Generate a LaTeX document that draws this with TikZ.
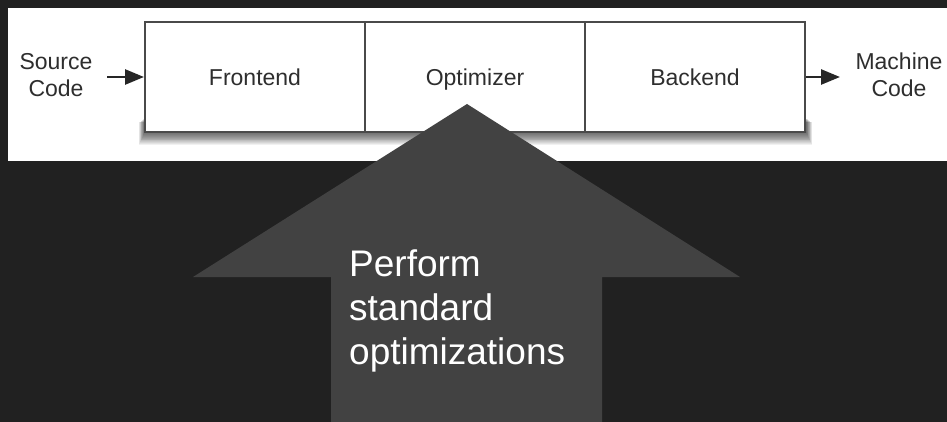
\documentclass[tikz,border=0pt]{standalone}
\usepackage{fontspec}
\setmainfont{Liberation Sans}
\usetikzlibrary{arrows.meta}
\definecolor{bgdark}{HTML}{212121}
\definecolor{arrowgray}{HTML}{424242}
\definecolor{framegray}{HTML}{4A4A4A}
\definecolor{labelgray}{HTML}{2E2E2E}
\tikzset{
  stage/.style={draw=framegray, line width=2pt, fill=white, minimum width=220pt,
    minimum height=110pt, inner sep=0pt, anchor=north west, text height=20pt, text depth=2pt,
    font=\fontsize{23}{27}\selectfont, text=labelgray},
  io/.style={align=center, inner sep=0pt, font=\fontsize{23}{27}\selectfont, text=labelgray},
  flow/.style={-{Triangle[length=19pt,width=15pt]}, line width=2.6pt, draw=black!85},
  bigtext/.style={align=left, inner sep=0pt, text=white, font=\fontsize{37}{44}\selectfont},
  shadowlayer/.style={fill=black, opacity=0.055}
}
\begin{document}
\begin{tikzpicture}[x=1pt,y=-1pt]
  \fill[bgdark] (0,0) rectangle (947,422);
  \useasboundingbox (0,0) rectangle (947,422);
  % white panel
  \fill[white] (8,8) rectangle (947,161);
  % soft shadow under the box
  \foreach \i in {1,...,15}{
    \fill[shadowlayer] (145-\i*0.4,118+\i*0.3) rectangle (806+\i*0.4,131+\i*0.95);
  }
  % stages
  \node[stage] (front) at (144,21) {Frontend};
  \node[stage] (opt) at (364,21) {Optimizer};
  \node[stage] (back) at (584,21) {Backend};
  % inputs / outputs
  \node[io, anchor=base] (src) at (56,97) {Source\\Code};
  \node[io, anchor=base] (mc) at (899,97) {Machine\\Code};
  \coordinate (srcend) at (107,77);
  \coordinate (mcend) at (840,77);
  \draw[flow] (srcend) -- (front.west |- srcend);
  \draw[flow] (back.east |- mcend) -- (mcend);
  % big arrow
  \fill[arrowgray] (467,104) -- (740,277) -- (602,277) -- (602,423) -- (331,423) -- (331,277) -- (193,277) -- cycle;
  \node[bigtext, anchor=base west] (note) at (349,364) {Perform\\standard\\optimizations};
\end{tikzpicture}
\end{document}
